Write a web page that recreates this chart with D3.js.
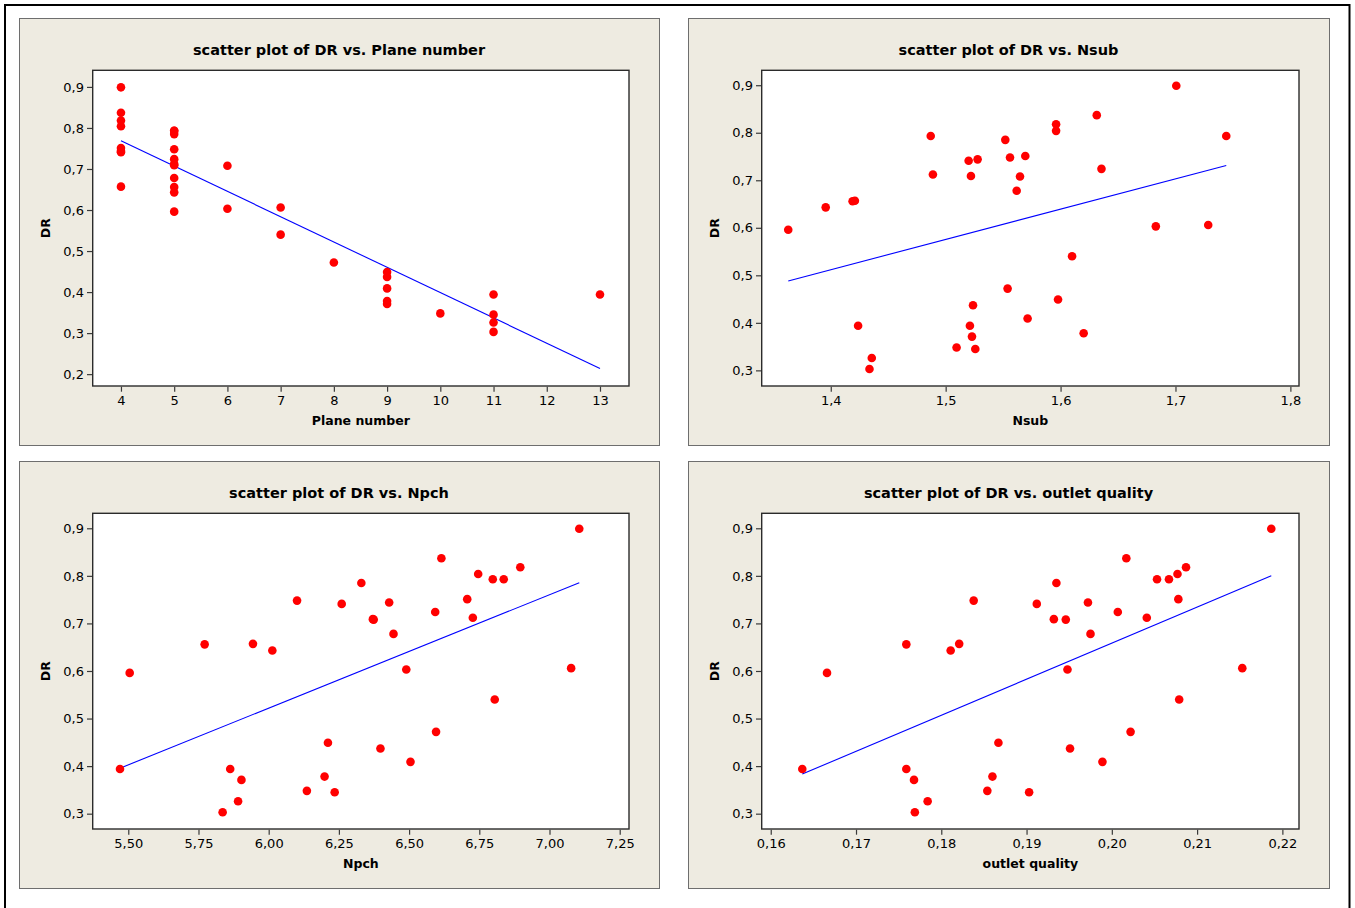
<!DOCTYPE html>
<html>
<head>
<meta charset="utf-8">
<script src="https://cdn.jsdelivr.net/npm/d3@7"></script>
<style>
  html, body { margin: 0; padding: 0; background: #fff; }
  svg { display: block; }
  text { font-family: Tahoma, "DejaVu Sans", Verdana, sans-serif; fill: #000; }
</style>
</head>
<body>
<svg id="chart" width="1355" height="908"></svg>
<script>
// Observations (one entry per run), response DR and the four predictors
const DR = [0.899, 0.837, 0.818, 0.804, 0.793, 0.793, 0.785, 0.751, 0.748, 0.744,
            0.741, 0.724, 0.712, 0.709, 0.708, 0.678, 0.657, 0.656, 0.643, 0.606,
            0.603, 0.596, 0.540, 0.472, 0.449, 0.437, 0.409, 0.394, 0.394, 0.378,
            0.371, 0.348, 0.345, 0.326, 0.303];
const planeNumber = [4, 4, 4, 4, 5, 5, 5, 4, 5, 4,
                     4, 5, 5, 5, 6, 5, 4, 5, 5, 7,
                     6, 5, 7, 8, 9, 9, 9, 11, 13, 9,
                     9, 10, 11, 11, 11];
const nsub = [1.7007, 1.6315, 1.5961, 1.5961, 1.4870, 1.7442, 1.5519, 1.5693, 1.5560, 1.5278,
              1.5200, 1.6356, 1.4889, 1.5220, 1.5647, 1.5618, 1.4210, 1.4190, 1.3956, 1.7285,
              1.6829, 1.3630, 1.6100, 1.5539, 1.5978, 1.5238, 1.5713, 1.4238, 1.5211, 1.6201,
              1.5229, 1.5095, 1.5258, 1.4357, 1.4337];
const npch = [7.106, 6.615, 6.896, 6.746, 6.798, 6.837, 6.330, 6.707, 6.101, 6.429,
              6.260, 6.593, 6.727, 6.371, 6.374, 6.4445, 5.944, 5.772, 6.013, 7.077,
              6.490, 5.505, 6.805, 6.596, 6.211, 6.398, 6.505, 5.4705, 5.863, 6.199,
              5.903, 6.136, 6.235, 5.891, 5.836];
const outletQuality = [0.2187, 0.2017, 0.2087, 0.2077, 0.2053, 0.2067, 0.1935, 0.2078, 0.1838, 0.1972,
                       0.1912, 0.2007, 0.2041, 0.1932, 0.1946, 0.1975, 0.1821, 0.1759, 0.1811, 0.2153,
                       0.1948, 0.1666, 0.2079, 0.2022, 0.1867, 0.1951, 0.1989, 0.1637, 0.1759, 0.1860,
                       0.1768, 0.1854, 0.1903, 0.1784, 0.1769];

// Tick values
const planeTicks = [4, 5, 6, 7, 8, 9, 10, 11, 12, 13];
const nsubTicks = [1.4, 1.5, 1.6, 1.7, 1.8];
const npchTicks = [5.50, 5.75, 6.00, 6.25, 6.50, 6.75, 7.00, 7.25];
const qualityTicks = [0.16, 0.17, 0.18, 0.19, 0.20, 0.21, 0.22];
const drTicksWide = [0.2, 0.3, 0.4, 0.5, 0.6, 0.7, 0.8, 0.9];
const drTicks = [0.3, 0.4, 0.5, 0.6, 0.7, 0.8, 0.9];

// Comma as decimal separator
const locale = d3.formatLocale({ decimal: ",", thousands: ".", grouping: [3], currency: ["", ""] });

const panels = [
  { title: "scatter plot of DR vs. Plane number", xLabel: "Plane number", x: planeNumber,
    xDomain: [3.469, 13.545], yDomain: [0.1711, 0.9405], xTicks: planeTicks, yTicks: drTicksWide,
    xFmt: locale.format("d"), left: 19, top: 18, width: 640 },
  { title: "scatter plot of DR vs. Nsub", xLabel: "Nsub", x: nsub,
    xDomain: [1.3399, 1.8075], yDomain: [0.2671, 0.9314], xTicks: nsubTicks, yTicks: drTicks,
    xFmt: locale.format(".1f"), left: 688, top: 18, width: 641 },
  { title: "scatter plot of DR vs. Npch", xLabel: "Npch", x: npch,
    xDomain: [5.3733, 7.2831], yDomain: [0.2678, 0.9315], xTicks: npchTicks, yTicks: drTicks,
    xFmt: locale.format(".2f"), left: 19, top: 461, width: 640 },
  { title: "scatter plot of DR vs. outlet quality", xLabel: "outlet quality", x: outletQuality,
    xDomain: [0.15894, 0.22195], yDomain: [0.2678, 0.9315], xTicks: qualityTicks, yTicks: drTicks,
    xFmt: locale.format(".2f"), left: 688, top: 461, width: 641 }
];

const panelHeight = 427;
const inner = { left: 73.7, right: 30, top: 52.3, bottom: 59 };
const yFmt = locale.format(".1f");

const svg = d3.select("#chart");

// Outer page frame
svg.append("rect")
  .attr("x", 5).attr("y", 5).attr("width", 1344.5).attr("height", 920)
  .attr("fill", "#fff").attr("stroke", "#000").attr("stroke-width", 2);

// Least-squares fit y = a + b x
function fit(xs, ys) {
  const mx = d3.mean(xs), my = d3.mean(ys);
  let sxy = 0, sxx = 0;
  xs.forEach((x, i) => { sxy += (x - mx) * (ys[i] - my); sxx += (x - mx) * (x - mx); });
  const b = sxy / sxx;
  return { a: my - b * mx, b };
}

panels.forEach(p => {
  const g = svg.append("g").attr("transform", `translate(${p.left},${p.top})`);

  g.append("rect")
    .attr("x", 0.5).attr("y", 0.5)
    .attr("width", p.width).attr("height", panelHeight)
    .attr("fill", "#EEEBE1").attr("stroke", "#6e6e6e").attr("stroke-width", 1);

  const x0 = inner.left, x1 = p.width - inner.right;
  const y0 = inner.top, y1 = panelHeight - inner.bottom;

  const x = d3.scaleLinear().domain(p.xDomain).range([x0, x1]);
  const y = d3.scaleLinear().domain(p.yDomain).range([y1, y0]);

  // Data region
  g.append("rect")
    .attr("x", x0).attr("y", y0).attr("width", x1 - x0).attr("height", y1 - y0)
    .attr("fill", "#fff").attr("stroke", "#2b2b2b").attr("stroke-width", 1.4);

  // Axes
  const xAxis = d3.axisBottom(x).tickValues(p.xTicks).tickFormat(p.xFmt).tickSize(5).tickSizeOuter(0).tickPadding(4.5);
  const yAxis = d3.axisLeft(y).tickValues(p.yTicks).tickFormat(yFmt).tickSize(5).tickSizeOuter(0).tickPadding(3);

  const gx = g.append("g").attr("transform", `translate(0,${y1 + 0.7})`).call(xAxis);
  const gy = g.append("g").attr("transform", `translate(${x0 - 0.7},0)`).call(yAxis);
  [gx, gy].forEach(a => {
    a.select(".domain").remove();
    a.selectAll(".tick line").attr("stroke", "#3a3a3a").attr("stroke-width", 1.2);
    a.selectAll(".tick text")
      .attr("font-family", 'Tahoma, "DejaVu Sans", Verdana, sans-serif')
      .attr("font-size", 13).attr("fill", "#111");
  });

  // Titles
  g.append("text")
    .attr("x", p.width / 2).attr("y", 37)
    .attr("text-anchor", "middle")
    .attr("font-size", 14.5).attr("font-weight", "bold")
    .text(p.title);

  g.append("text")
    .attr("x", (x0 + x1) / 2).attr("y", y1 + 39)
    .attr("text-anchor", "middle")
    .attr("font-size", 12.5).attr("font-weight", "bold")
    .text(p.xLabel);

  g.append("text")
    .attr("transform", `translate(${31},${(y0 + y1) / 2}) rotate(-90)`)
    .attr("text-anchor", "middle")
    .attr("font-size", 12.5).attr("font-weight", "bold")
    .text("DR");

  // Fitted line over the data range
  const f = fit(p.x, DR);
  const [xmin, xmax] = d3.extent(p.x);
  g.append("line")
    .attr("x1", x(xmin)).attr("y1", y(f.a + f.b * xmin))
    .attr("x2", x(xmax)).attr("y2", y(f.a + f.b * xmax))
    .attr("stroke", "#0000FF").attr("stroke-width", 1.1);

  // Points
  g.append("g").selectAll("circle")
    .data(p.x.map((v, i) => [v, DR[i]]))
    .join("circle")
    .attr("cx", d => x(d[0])).attr("cy", d => y(d[1]))
    .attr("r", 4.3)
    .attr("fill", "#FF0000");
});
</script>
</body>
</html>
